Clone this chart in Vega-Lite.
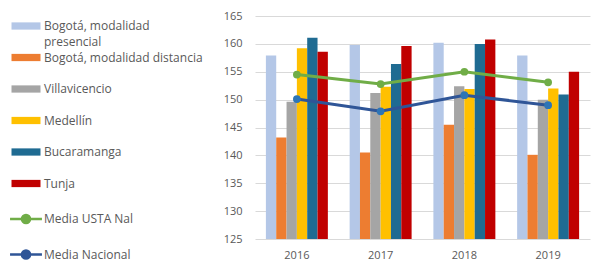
{
  "$schema": "https://vega.github.io/schema/vega-lite/v6.json",
  "width": 335,
  "height": 223,
  "autosize": {"type": "none"},
  "padding": {"left": 255, "top": 16, "right": 1, "bottom": 25},
  "background": "white",
  "config": {
    "view": {"stroke": null},
    "font": "Open Sans"
  },
  "data": {
    "values": [
      {"year": "2016", "serie": "Bogotá, modalidad presencial", "tipo": "bar", "valor": 157.9},
      {"year": "2016", "serie": "Bogotá, modalidad distancia", "tipo": "bar", "valor": 143.2},
      {"year": "2016", "serie": "Villavicencio", "tipo": "bar", "valor": 149.6},
      {"year": "2016", "serie": "Medellín", "tipo": "bar", "valor": 159.2},
      {"year": "2016", "serie": "Bucaramanga", "tipo": "bar", "valor": 161.1},
      {"year": "2016", "serie": "Tunja", "tipo": "bar", "valor": 158.6},
      {"year": "2016", "serie": "Media USTA Nal", "tipo": "line", "valor": 154.5},
      {"year": "2016", "serie": "Media Nacional", "tipo": "line", "valor": 150.1},
      {"year": "2017", "serie": "Bogotá, modalidad presencial", "tipo": "bar", "valor": 159.8},
      {"year": "2017", "serie": "Bogotá, modalidad distancia", "tipo": "bar", "valor": 140.5},
      {"year": "2017", "serie": "Villavicencio", "tipo": "bar", "valor": 151.2},
      {"year": "2017", "serie": "Medellín", "tipo": "bar", "valor": 152.3},
      {"year": "2017", "serie": "Bucaramanga", "tipo": "bar", "valor": 156.4},
      {"year": "2017", "serie": "Tunja", "tipo": "bar", "valor": 159.6},
      {"year": "2017", "serie": "Media USTA Nal", "tipo": "line", "valor": 152.8},
      {"year": "2017", "serie": "Media Nacional", "tipo": "line", "valor": 147.9},
      {"year": "2018", "serie": "Bogotá, modalidad presencial", "tipo": "bar", "valor": 160.2},
      {"year": "2018", "serie": "Bogotá, modalidad distancia", "tipo": "bar", "valor": 145.5},
      {"year": "2018", "serie": "Villavicencio", "tipo": "bar", "valor": 152.4},
      {"year": "2018", "serie": "Medellín", "tipo": "bar", "valor": 151.9},
      {"year": "2018", "serie": "Bucaramanga", "tipo": "bar", "valor": 160.0},
      {"year": "2018", "serie": "Tunja", "tipo": "bar", "valor": 160.8},
      {"year": "2018", "serie": "Media USTA Nal", "tipo": "line", "valor": 155.0},
      {"year": "2018", "serie": "Media Nacional", "tipo": "line", "valor": 150.8},
      {"year": "2019", "serie": "Bogotá, modalidad presencial", "tipo": "bar", "valor": 157.9},
      {"year": "2019", "serie": "Bogotá, modalidad distancia", "tipo": "bar", "valor": 140.1},
      {"year": "2019", "serie": "Villavicencio", "tipo": "bar", "valor": 150.0},
      {"year": "2019", "serie": "Medellín", "tipo": "bar", "valor": 152.0},
      {"year": "2019", "serie": "Bucaramanga", "tipo": "bar", "valor": 150.9},
      {"year": "2019", "serie": "Tunja", "tipo": "bar", "valor": 155.0},
      {"year": "2019", "serie": "Media USTA Nal", "tipo": "line", "valor": 153.1},
      {"year": "2019", "serie": "Media Nacional", "tipo": "line", "valor": 149.0}
    ]
  },
  "encoding": {
    "x": {
      "field": "year", "type": "nominal",
      "scale": {"paddingInner": 0.26, "paddingOuter": 0.13},
      "axis": {
        "title": null, "labelAngle": 0, "domain": false, "ticks": false,
        "labelFont": "Open Sans", "labelFontSize": 11, "labelColor": "#595959", "labelPadding": 10
      }
    },
    "y": {
      "field": "valor", "type": "quantitative",
      "scale": {"domain": [125, 165], "zero": false, "nice": false},
      "axis": {
        "title": null, "values": [125, 130, 135, 140, 145, 150, 155, 160, 165],
        "domain": false, "ticks": false, "gridColor": "#d9d9d9", "gridWidth": 1,
        "labelFont": "Open Sans", "labelFontSize": 11, "labelColor": "#595959", "labelPadding": 13
      }
    },
    "color": {
      "field": "serie", "type": "nominal",
      "scale": {
        "domain": ["Bogotá, modalidad presencial", "Bogotá, modalidad distancia", "Villavicencio", "Medellín", "Bucaramanga", "Tunja", "Media USTA Nal", "Media Nacional"],
        "range": ["#b4c7e7", "#ed7d31", "#a5a5a5", "#ffc000", "#1f6b92", "#c00000", "#70ad47", "#2f5597"]
      },
      "legend": {
        "orient": "none", "legendX": -235, "legendY": 4, "title": null,
        "labelFont": "Open Sans", "labelFontSize": 12, "labelColor": "#595959",
        "symbolSize": 841, "rowPadding": 3.5, "labelOffset": 12, "labelLimit": 230,
        "labelExpr": "datum.label == 'Bogotá, modalidad presencial' ? ['Bogotá, modalidad', 'presencial'] : [datum.label, ' ']",
        "encode": {
          "labels": {
            "update": {
              "lineHeight": {"value": 16}
            }
          },
          "symbols": {
            "update": {
              "shape": {"signal": "indexof(['Media USTA Nal', 'Media Nacional'], datum.value) >= 0 ? 'M-1.1,0H1.1M-0.28,0A0.28,0.28 0 1,0 0.28,0A0.28,0.28 0 1,0 -0.28,0' : 'M-1,-0.25H1V0.25H-1Z'"},
              "fill": {"signal": "datum.value == 'Media Nacional' ? '#2e75b6' : scale('color', datum.value)"},
              "stroke": {"signal": "scale('color', datum.value)"},
              "strokeWidth": {"signal": "indexof(['Media USTA Nal', 'Media Nacional'], datum.value) >= 0 ? 2.5 : 0"},
              "opacity": {"value": 1},
              "fillOpacity": {"value": 1}
            }
          }
        }
      }
    }
  },
  "layer": [
    {
      "transform": [{"filter": "datum.tipo == 'bar'"}],
      "mark": {"type": "bar"},
      "encoding": {
        "xOffset": {
          "field": "serie", "type": "nominal",
          "sort": ["Bogotá, modalidad presencial", "Bogotá, modalidad distancia", "Villavicencio", "Medellín", "Bucaramanga", "Tunja"],
          "scale": {"paddingInner": 0, "paddingOuter": 0}
        },
        "y": {"field": "valor", "type": "quantitative"},
        "y2": {"datum": 125}
      }
    },
    {
      "transform": [{"filter": "datum.tipo == 'line'"}],
      "mark": {"type": "line", "strokeWidth": 3},
      "encoding": {}
    },
    {
      "transform": [{"filter": "datum.tipo == 'line'"}],
      "mark": {"type": "point", "filled": true, "size": 60, "opacity": 1},
      "encoding": {
        "color": {
          "condition": {"test": "datum.serie == 'Media Nacional'", "value": "#2e75b6"},
          "field": "serie", "type": "nominal"
        }
      }
    }
  ]
}
